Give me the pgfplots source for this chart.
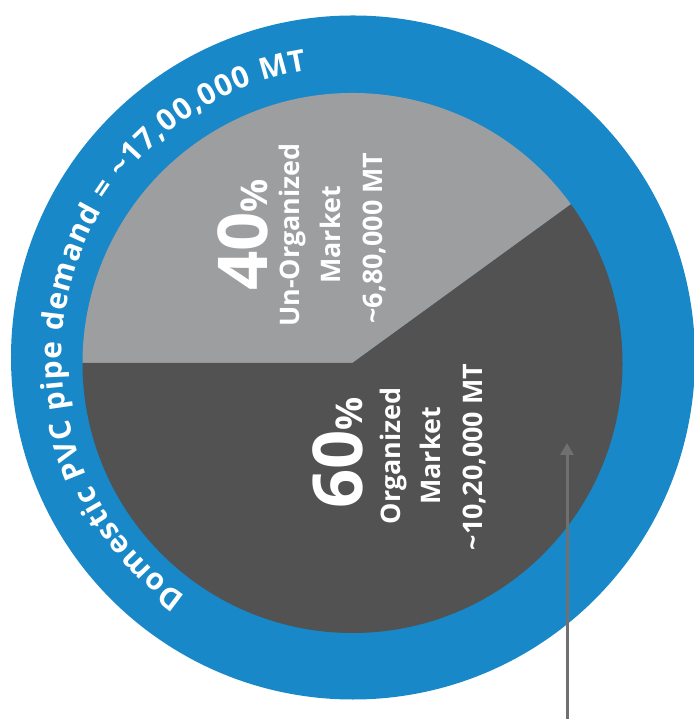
\documentclass[border=0pt]{standalone}
\usepackage{pgfplots}
\pgfplotsset{compat=1.18}
\usepackage{pgfplotstable}
\usepackage{fontspec}
\setmainfont{Open Sans}
\usetikzlibrary{decorations.text, arrows.meta}
\definecolor{ringblue}{RGB}{24,136,200}
\definecolor{lightslice}{RGB}{157,158,160}
\definecolor{darkslice}{RGB}{82,82,82}
\definecolor{arrowgray}{RGB}{112,112,112}

\pgfplotstableread{
segment value
Unorganized 40
Organized 60
}\piedata

\begin{document}
\begin{tikzpicture}
\pgfplotstablegetelem{0}{value}\of\piedata \let\valU\pgfplotsretval
\pgfplotstablegetelem{1}{value}\of\piedata \let\valO\pgfplotsretval
\pgfmathsetmacro{\startU}{180-3.6*\valU}
\pgfmathsetmacro{\endO}{180+3.6*\valO}
\begin{axis}[x=1bp,y=1bp,xmin=0,xmax=694,ymin=0,ymax=719,
  hide axis,scale only axis,clip=false]
% outer ring (total demand)
\fill[ringblue] (axis cs:353,361.5) circle[radius=342bp];
% pie slices
\fill[lightslice] (axis cs:352.5,356) -- ([shift={(\startU:270bp)}]axis cs:352.5,356)
  arc[start angle=\startU, end angle=180, radius=270bp] -- cycle;
\fill[darkslice] (axis cs:352.5,356) -- ([shift={(180:270bp)}]axis cs:352.5,356)
  arc[start angle=180, end angle=\endO, radius=270bp] -- cycle;
% ring text
\path[decorate, decoration={text along path, text align={fit to path},
  text={|\fontsize{30}{30}\selectfont\bfseries\color{white}|Domestic PVC pipe demand = {\textasciitilde}17,00,000 MT}}]
  ([shift={(235:291bp)}]axis cs:353,361.5) arc[start angle=235, end angle=99, radius=291bp];
% slice labels
\begin{scope}[every node/.style={rotate=90, anchor=base, text=white, font=\bfseries\fontsize{27}{27}\selectfont, inner sep=0pt}]
\node at (axis cs:267,484) {\fontsize{69}{69}\selectfont 40\fontsize{37}{37}\selectfont\%};
\node at (axis cs:299,484) {Un-Organized};
\node at (axis cs:340,484) {Market};
\node at (axis cs:382,481) {\textasciitilde 6,80,000 MT};
\node at (axis cs:362,266) {\fontsize{69}{69}\selectfont 60\fontsize{37}{37}\selectfont\%};
\node at (axis cs:400,263) {Organized};
\node at (axis cs:440,263) {Market};
\node at (axis cs:482,262) {\textasciitilde 10,20,000 MT};
\end{scope}
% arrow
\draw[arrowgray, line width=3bp, -{Triangle[width=13bp,length=12bp]}] (axis cs:567,0) -- (axis cs:567,276);
\end{axis}
\pgfresetboundingbox
\path (current axis.south west) rectangle (current axis.north east);
\end{tikzpicture}
\end{document}
